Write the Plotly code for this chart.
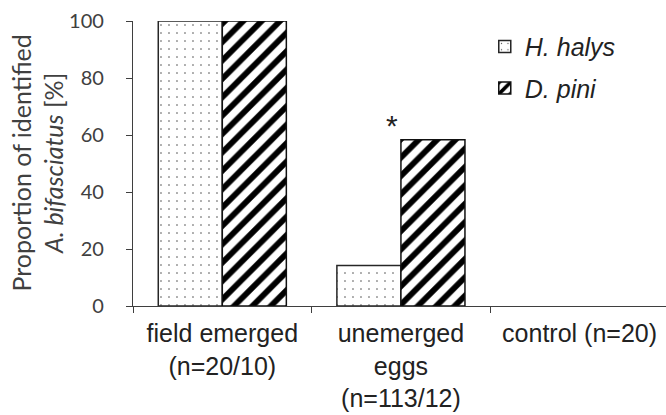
import plotly.graph_objects as go

# Groups on the x axis and the tick text shown under each
categories = ["field emerged (n=20/10)", "unemerged eggs (n=113/12)", "control (n=20)"]
tick_labels = ["field emerged<br>(n=20/10)", "unemerged<br>eggs<br>(n=113/12)", "control (n=20)"]

# Proportion of identified A. bifasciatus [%] per host species
h_halys = [100, 14.2, 0]
d_pini = [100, 58.3, 0]

y_ticks = [0, 20, 40, 60, 80, 100]

AXIS_COL = "#3f3f3f"
LABEL_COL = "#404040"
TEXT_COL = "#222222"

# zero-height bars get no outline so nothing is drawn on the axis
outline_h = [1.5 if v > 0 else 0 for v in h_halys]
outline_d = [1.5 if v > 0 else 0 for v in d_pini]

fig = go.Figure()

fig.add_trace(go.Bar(
    x=categories, y=h_halys, name="<i>H. halys</i>", legendgroup="a",
    marker=dict(
        color="white",
        line=dict(color="#262626", width=outline_h),
        pattern=dict(shape=".", size=8, solidity=0.03,
                     fgcolor="#444444", bgcolor="white", fillmode="replace"),
    ),
))
fig.add_trace(go.Bar(
    x=categories, y=d_pini, name="<i>D. pini</i>", legendgroup="b",
    marker=dict(
        color="white",
        line=dict(color="#111111", width=outline_d),
        pattern=dict(shape="/", size=13, solidity=0.45,
                     fgcolor="black", bgcolor="white", fillmode="replace"),
    ),
))

# significance marker above the unemerged-eggs pair
fig.add_annotation(
    x=categories[1], y=d_pini[1], xref="x", yref="y",
    text="*", showarrow=False, xshift=-9, yshift=-4, yanchor="bottom",
    font=dict(family="Liberation Sans, Arial", size=30, color=TEXT_COL),
)

# y axis title (two lines, second partly italic)
fig.add_annotation(
    xref="paper", yref="paper", x=0, y=0.5, xshift=-96,
    text="Proportion of identified<br><i>A. bifasciatus</i> [%]",
    textangle=-90, showarrow=False, xanchor="center", yanchor="middle",
    font=dict(family="Lato, Carlito, Calibri, sans-serif", size=25, color=LABEL_COL),
)

fig.update_layout(
    width=666, height=415,
    margin=dict(l=133, r=0, t=21, b=109, autoexpand=False),
    paper_bgcolor="white", plot_bgcolor="white",
    barmode="group", bargap=0.283, bargroupgap=0,
    showlegend=True,
    legend=dict(
        x=0.66, y=0.99, xanchor="left", yanchor="top",
        bgcolor="rgba(0,0,0,0)", borderwidth=0,
        font=dict(family="Liberation Sans, Arial", size=25, color=TEXT_COL),
        tracegroupgap=6,
    ),
    xaxis=dict(
        type="category", categoryorder="array", categoryarray=categories,
        tickmode="array", tickvals=categories, ticktext=tick_labels,
        range=[-0.5, 2.484], tickson="boundaries", automargin=False,
        ticks="outside", ticklen=6, tickwidth=1.3, tickcolor=AXIS_COL,
        showline=True, linecolor=AXIS_COL, linewidth=1.3,
        showgrid=False, zeroline=False,
        ticklabelstandoff=5,
        tickfont=dict(family="Liberation Sans, Arial", size=25, color=TEXT_COL),
    ),
    yaxis=dict(
        range=[0, 100], tickvals=y_ticks, automargin=False,
        ticks="outside", ticklen=6, tickwidth=1.3, tickcolor=AXIS_COL,
        showline=True, linecolor=AXIS_COL, linewidth=1.3,
        showgrid=False, zeroline=False,
        ticklabelstandoff=18,
        tickfont=dict(family="Lato, Carlito, Calibri, sans-serif", size=20, color=LABEL_COL),
    ),
)

fig.write_html("out.html")
